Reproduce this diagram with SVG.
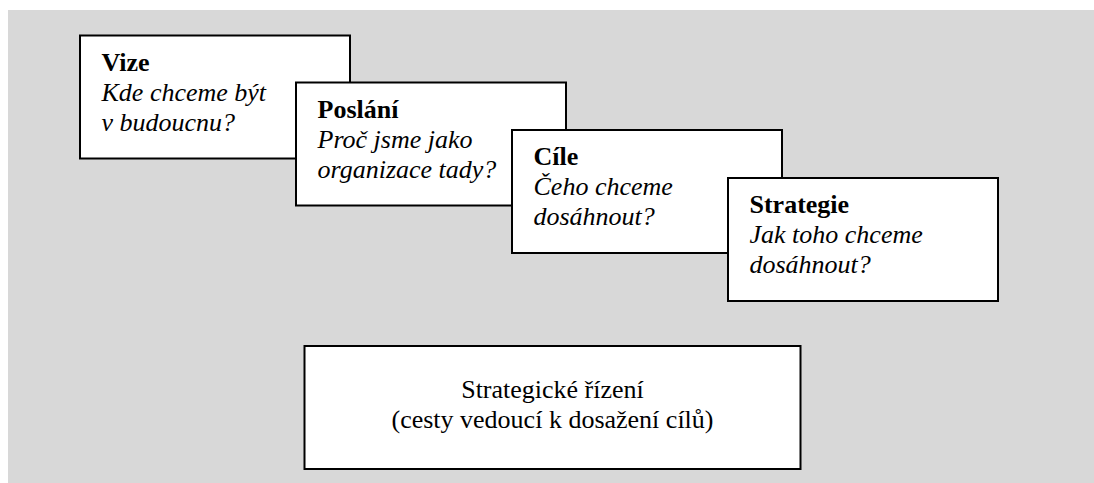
<svg xmlns="http://www.w3.org/2000/svg" width="1094" height="483" viewBox="0 0 1094 483">
  <style>
    .box { fill: #ffffff; stroke: #000000; stroke-width: 2; }
    text { font-family: 'Liberation Serif', 'Times New Roman', Tinos, 'DejaVu Serif', serif; font-size: 26px; fill: #000000; }
    .h { font-weight: bold; }
    .i { font-style: italic; }
  </style>
  <!-- grey panel -->
  <rect x="8" y="10" width="1086" height="473" fill="#d8d8d8"/>

  <g id="connectors"/>

  <g font-family="Liberation Serif, serif">
  <g id="vize">
    <rect class="box" x="80" y="35.5" width="270" height="123"/>
    <text class="h" x="101.5" y="71">Vize</text>
    <text class="i" x="101.5" y="101">Kde chceme být</text>
    <text class="i" x="101.5" y="131">v budoucnu?</text>
  </g>

  <g id="poslani">
    <rect class="box" x="296" y="82.5" width="270" height="123"/>
    <text class="h" x="317.5" y="117.5">Poslání</text>
    <text class="i" x="317.5" y="147.5">Proč jsme jako</text>
    <text class="i" x="317.5" y="177.5">organizace tady?</text>
  </g>

  <g id="cile">
    <rect class="box" x="512" y="130" width="270" height="123"/>
    <text class="h" x="533.5" y="165">Cíle</text>
    <text class="i" x="533.5" y="195">Čeho chceme</text>
    <text class="i" x="533.5" y="225">dosáhnout?</text>
  </g>

  <g id="strategie">
    <rect class="box" x="728" y="178" width="270" height="123"/>
    <text class="h" x="749.5" y="213">Strategie</text>
    <text class="i" x="749.5" y="243">Jak toho chceme</text>
    <text class="i" x="749.5" y="273">dosáhnout?</text>
  </g>

  <g id="rizeni">
    <rect class="box" x="304.5" y="346" width="496" height="123"/>
    <text x="552.5" y="397.5" text-anchor="middle">Strategické řízení</text>
    <text x="552.5" y="428" text-anchor="middle">(cesty vedoucí k dosažení cílů)</text>
  </g>
  </g>
</svg>
